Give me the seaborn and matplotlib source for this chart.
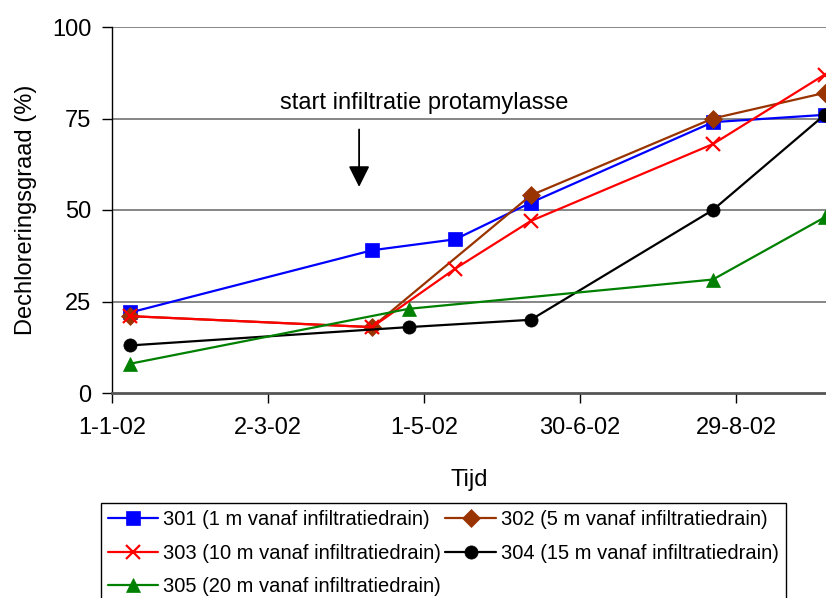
import pandas as pd
import numpy as np
import matplotlib
matplotlib.use("Agg")
import matplotlib.pyplot as plt
import seaborn as sns

# Dechlorering per peilbuis
labels = [
    "301 (1 m vanaf infiltratiedrain)",
    "302 (5 m vanaf infiltratiedrain)",
    "303 (10 m vanaf infiltratiedrain)",
    "304 (15 m vanaf infiltratiedrain)",
    "305 (20 m vanaf infiltratiedrain)",
]
colors = ["#0000FF", "#993300", "#FF0000", "#000000", "#008000"]
markers = ["s", "D", "x", "o", "^"]

dates_301 = ["2002-01-08", "2002-04-11", "2002-05-13", "2002-06-11", "2002-08-20", "2002-10-02"]
vals_301 = [22, 39, 42, 52, 74, 76]

dates_302 = ["2002-01-08", "2002-04-11", "2002-06-11", "2002-08-20", "2002-10-02"]
vals_302 = [21, 18, 54, 75, 82]

dates_303 = ["2002-01-08", "2002-04-11", "2002-05-13", "2002-06-11", "2002-08-20", "2002-10-02"]
vals_303 = [21, 18, 34, 47, 68, 87]

dates_304 = ["2002-01-08", "2002-04-25", "2002-06-11", "2002-08-20", "2002-10-02"]
vals_304 = [13, 18, 20, 50, 76]

dates_305 = ["2002-01-08", "2002-04-25", "2002-08-20", "2002-10-02"]
vals_305 = [8, 23, 31, 48]

all_dates = [dates_301, dates_302, dates_303, dates_304, dates_305]
all_vals = [vals_301, vals_302, vals_303, vals_304, vals_305]

tick_dates = ["2002-01-01", "2002-03-02", "2002-05-01", "2002-06-30", "2002-08-29"]
tick_labels = ["1-1-02", "2-3-02", "1-5-02", "30-6-02", "29-8-02"]

sns.set_theme(style="white")
plt.rcParams["font.family"] = ["Liberation Sans", "DejaVu Sans"]
plt.rcParams["text.color"] = "black"
plt.rcParams["axes.labelcolor"] = "black"

fig = plt.figure(figsize=(8.26, 5.98), dpi=100)
ax = fig.add_axes([112 / 826, 1 - 393 / 598, 1 - 112 / 826, (393 - 27) / 598])

# gridlines
for yv in [25, 50, 75, 100]:
    ax.axhline(yv, color="#666666", lw=1.1, zorder=0)

sizes = [10, 9.5, 10, 9.5, 10]
for d, v, lab, c, m, s in zip(all_dates, all_vals, labels, colors, markers, sizes):
    sns.lineplot(x=pd.to_datetime(d), y=v, ax=ax, color=c, marker=m,
                 markersize=s, markeredgecolor=c,
                 markeredgewidth=1.6 if m == "x" else 0.5,
                 linewidth=1.6, label=lab, clip_on=True)

ax.set_ylim(0, 100)
ax.set_xlim(pd.Timestamp("2002-01-01"), pd.Timestamp("2002-10-02 12:00"))
ax.set_yticks([0, 25, 50, 75, 100])
ax.set_xticks(pd.to_datetime(tick_dates))
ax.set_xticklabels(tick_labels)

ax.tick_params(axis="both", labelsize=17, colors="black", length=7, width=1,
               direction="out", bottom=True, left=True)
ax.tick_params(axis="x", pad=10)
ax.tick_params(axis="y", pad=8)

for side in ["top", "right"]:
    ax.spines[side].set_visible(False)
ax.spines["left"].set_color("black")
ax.spines["left"].set_linewidth(1)
ax.spines["bottom"].set_color("#555555")
ax.spines["bottom"].set_linewidth(2)

ax.set_xlabel("Tijd", fontsize=17, labelpad=22)
ax.set_ylabel("Dechloreringsgraad (%)", fontsize=17, labelpad=11)

# pijl en tekst voor start infiltratie
ax.annotate("", xy=(pd.Timestamp("2002-04-06"), 56.3),
            xytext=(pd.Timestamp("2002-04-06"), 72),
            arrowprops=dict(arrowstyle="-|>", color="black", lw=1.3,
                            mutation_scale=32, shrinkA=0, shrinkB=0))
ax.text(pd.Timestamp("2002-05-01"), 79.3, "start infiltratie protamylasse",
        fontsize=17, ha="center", va="center")

# legenda rij voor rij, zoals in Excel
handles, labs = ax.get_legend_handles_labels()
order = [0, 2, 4, 1, 3]
leg = ax.legend([handles[i] for i in order], [labs[i] for i in order],
                loc="upper left", bbox_to_anchor=(101 / 826, 1 - 503 / 598),
                bbox_transform=fig.transFigure, ncol=2, fontsize=14.5,
                frameon=True, fancybox=False, edgecolor="black",
                handlelength=2.5, handletextpad=0.25, columnspacing=0.2,
                labelspacing=0.72, borderpad=0.35, borderaxespad=0)
leg.get_frame().set_linewidth(1)
leg.get_frame().set_alpha(1)

fig.savefig("out.png", dpi=100)
